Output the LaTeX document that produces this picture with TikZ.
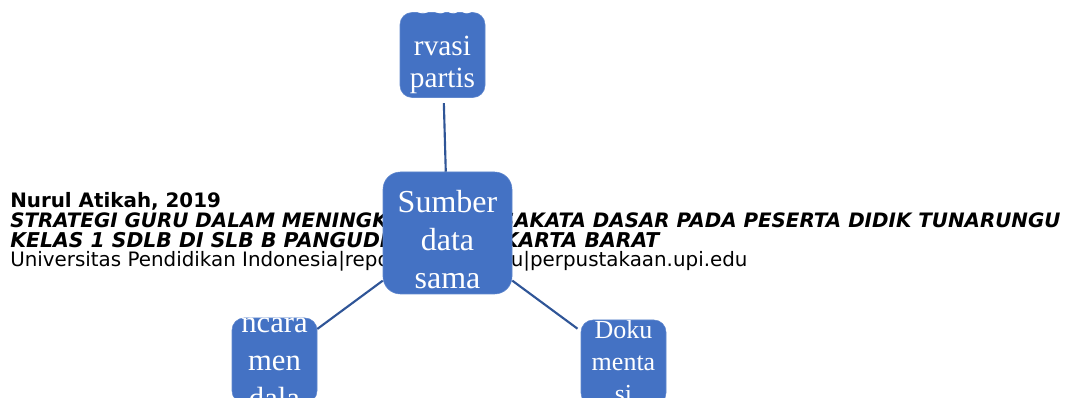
\documentclass[tikz,border=0pt]{standalone}
\usepackage{fontspec}
\setmainfont{Liberation Serif}
\newfontfamily\footerfont{DejaVu Sans}
\definecolor{smartblue}{RGB}{68,114,196}
\definecolor{linkblue}{RGB}{47,85,151}

\begin{document}
\begin{tikzpicture}[x=0.75pt, y=-0.75pt,
    box/.style={rectangle, rounded corners=9pt, fill=smartblue, draw=smartblue!85!white, minimum width=63.75pt, minimum height=63.75pt},
    boxtext/.style={text=white, align=center, inner sep=0pt},
    footer/.style={anchor=base west, inner sep=0pt, font=\footerfont\fontsize{14.9}{16}\selectfont},
    link/.style={draw=linkblue, line width=1.6pt}
]
\useasboundingbox (0,0) rectangle (1068,398);
\clip (0,0) rectangle (1068,398);

% Footer
\node[footer] (author) at (10,208) {\bfseries Nurul Atikah, 2019};
\node[footer] (title1) at (10,228) {\bfseries\itshape STRATEGI GURU DALAM MENINGKATKAN KOSAKATA DASAR PADA PESERTA DIDIK TUNARUNGU};
\node[footer, font=\footerfont\fontsize{15.3}{16}\selectfont] (title2) at (10,248) {\bfseries\itshape KELAS 1 SDLB DI SLB B PANGUDI LUHUR JAKARTA BARAT};
\node[footer] (univ) at (10,267) {Universitas Pendidikan Indonesia|repository.upi.edu|perpustakaan.upi.edu};

% Boxes
\node[box] (obs) at (442.5,55) {};
\node[box, minimum width=96.75pt, minimum height=91.5pt, rounded corners=13pt] (sumber) at (447.5,233) {};
\node[box] (wawancara) at (274.5,360.5) {};
\node[box] (dokumentasi) at (623.5,362.5) {};

% Box texts
\node[boxtext, font=\fontsize{22}{24}\selectfont] (obs-text) at (442.5,43.2) {Obse\\[7.5pt]rvasi\\partis};
\node[boxtext, font=\fontsize{24}{28.5}\selectfont] (sumber-text) at (447.5,240) {Sumber\\data\\sama};
\node[boxtext, font=\fontsize{23}{28.5}\selectfont] (wawancara-text) at (274.5,363) {ncara\\men\\dala};
\node[boxtext, font=\fontsize{19.5}{24}\selectfont] (dokumentasi-text) at (623.5,362) {Doku\\menta\\si};

% Links
\draw[link, shorten <=4pt] (obs) -- (sumber);
\draw[link] (sumber) -- (wawancara);
\draw[link, shorten >=3pt] (sumber) -- (dokumentasi);

\end{tikzpicture}
\end{document}
